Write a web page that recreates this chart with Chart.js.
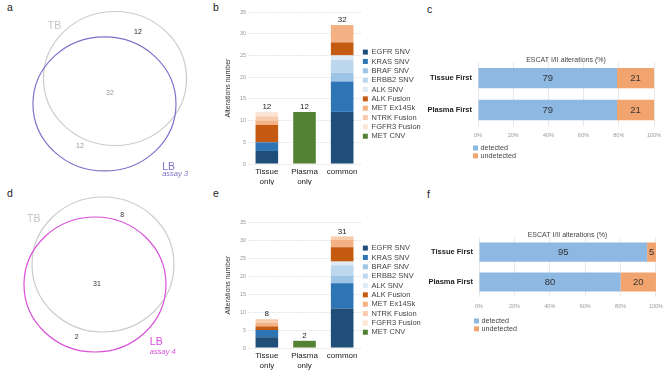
<!DOCTYPE html>
<html>
<head>
<meta charset="utf-8">
<script src="https://cdn.jsdelivr.net/npm/chart.js@4.4.1/dist/chart.umd.min.js"></script>
<style>
  body { margin: 0; background: #fff; width: 669px; height: 375px; position: relative; overflow: hidden;
         font-family: "Liberation Sans", Arial, sans-serif; }
  .panel { position: absolute; }
  .tag { position: absolute; font-size: 10.5px; line-height: 1; color: #222; }
</style>
</head>
<body>
<div class="tag" style="left:7px;top:2px">a</div>
<div class="tag" style="left:213px;top:2px">b</div>
<div class="tag" style="left:427px;top:4px">c</div>
<div class="tag" style="left:7px;top:188px">d</div>
<div class="tag" style="left:213px;top:188px">e</div>
<div class="tag" style="left:427px;top:189px">f</div>

<div class="panel" style="left:0;top:0;width:230px;height:185px"><canvas id="vennA"></canvas></div>
<div class="panel" style="left:221px;top:0;width:204px;height:185px"><canvas id="barsB"></canvas></div>
<div class="panel" style="left:420px;top:0;width:249px;height:185px"><canvas id="escatC"></canvas></div>
<div class="panel" style="left:0;top:185px;width:230px;height:185px"><canvas id="vennD"></canvas></div>
<div class="panel" style="left:221px;top:185px;width:204px;height:185px"><canvas id="barsE"></canvas></div>
<div class="panel" style="left:420px;top:185px;width:249px;height:185px"><canvas id="escatF"></canvas></div>

<script>
// ---- data ----
const vennSetNames = ['TB', 'LB'];
const vennACounts = [12, 32, 12];   // TB only, both, LB only
const vennDCounts = [8, 31, 2];

const mutationTypes = ['EGFR SNV', 'KRAS SNV', 'BRAF SNV', 'ERBB2 SNV', 'ALK SNV',
  'ALK Fusion', 'MET Ex14Sk', 'NTRK Fusion', 'FGFR3 Fusion', 'MET CNV'];
const mutationColors = ['#1f4e79', '#2e75b6', '#9dc3e6', '#bdd7ee', '#deebf7',
  '#c55a11', '#f4b183', '#f8cbad', '#fbe5d6', '#548235'];
const groupLabels = [['Tissue', 'only'], ['Plasma', 'only'], 'common'];

// counts per mutation type (same order as mutationTypes)
const assay3TissueOnly = [3, 2, 0, 0, 0, 4, 1, 1, 1, 0];
const assay3PlasmaOnly = [0, 0, 0, 0, 0, 0, 0, 0, 0, 12];
const assay3Common     = [12, 7, 2, 3, 1, 3, 4, 0, 0, 0];
const assay4TissueOnly = [3, 2, 0, 0, 0, 1, 1, 1, 0, 0];
const assay4PlasmaOnly = [0, 0, 0, 0, 0, 0, 0, 0, 0, 2];
const assay4Common     = [11, 7, 2, 3, 1, 4, 2, 1, 0, 0];

const escatGroups = ['Tissue First', 'Plasma First'];
const escatTicks = [0, 20, 40, 60, 80, 100];
const escatCDetected = [79, 79];
const escatCUndetected = [21, 21];
const escatFDetected = [95, 80];
const escatFUndetected = [5, 20];

const FONT = '"Liberation Sans", Arial, sans-serif';
Chart.defaults.font.family = FONT;
Chart.defaults.animation = false;
Chart.defaults.plugins.tooltip.enabled = false;

// ---- venn: circles + texts placed in data units through the scales ----
const vennPlugin = {
  id: 'venn',
  afterDatasetsDraw(chart, args, opts) {
    const { ctx, scales: { x, y } } = chart;
    ctx.save();
    chart.data.datasets.forEach(ds => {
      const c = ds.data[0];
      const cx = x.getPixelForValue(c.x), cy = y.getPixelForValue(c.y);
      const rx = x.getPixelForValue(c.x + opts.radius) - cx;
      const ry = cy - y.getPixelForValue(c.y + opts.radius);
      ctx.beginPath();
      ctx.ellipse(cx, cy, rx, ry, 0, 0, Math.PI * 2);
      ctx.strokeStyle = ds.borderColor;
      ctx.lineWidth = 1.2;
      ctx.stroke();
    });
    opts.texts.forEach(t => {
      ctx.font = (t.style || '') + ' ' + t.size + 'px ' + FONT;
      ctx.fillStyle = t.color;
      ctx.textAlign = t.align || 'center';
      ctx.textBaseline = t.base || 'middle';
      ctx.fillText(t.text, x.getPixelForValue(t.x), y.getPixelForValue(t.y));
    });
    ctx.restore();
  }
};

function vennChart(id, counts, lbColor, assay, centers, texts, range) {
  new Chart(document.getElementById(id), {
    type: 'scatter',
    data: {
      datasets: vennSetNames.map((name, i) => ({
        label: name,
        data: [centers[i]],
        borderColor: i === 0 ? '#cccccc' : lbColor,
        pointRadius: 0
      }))
    },
    options: {
      responsive: true, maintainAspectRatio: false,
      layout: { padding: 0 },
      scales: {
        x: { display: false, min: range[0], max: range[1] },
        y: { display: false, min: range[2], max: range[3] }
      },
      plugins: {
        legend: { display: false },
        venn: { radius: 1, texts: texts }
      }
    },
    plugins: [vennPlugin]
  });
}

vennChart('vennA', vennACounts, '#7d72c9', 'assay 3',
  [{ x: 0, y: 0 }, { x: -0.147, y: -0.38 }],
  [
    { text: vennSetNames[0], x: -0.94, y: 0.74, size: 10.5, color: '#c4c4c4', align: 'left', base: 'alphabetic' },
    { text: vennACounts[0], x: 0.32, y: 0.69, size: 7, color: '#222' },
    { text: vennACounts[1], x: -0.07, y: -0.22, size: 7, color: '#999' },
    { text: vennACounts[2], x: -0.49, y: -1.01, size: 7, color: '#999' },
    { text: vennSetNames[1], x: 0.66, y: -1.37, size: 10.5, color: '#7d72c9', align: 'left', base: 'alphabetic' },
    { text: 'assay 3', x: 0.66, y: -1.45, size: 7.5, color: '#7d72c9', align: 'left', base: 'alphabetic', style: 'italic' }
  ],
  [-1.608, 1.608, -1.59, 1.172]);

vennChart('vennD', vennDCounts, '#d94fd9', 'assay 4',
  [{ x: 0, y: 0 }, { x: -0.113, y: -0.296 }],
  [
    { text: vennSetNames[0], x: -1.07, y: 0.63, size: 10.5, color: '#c4c4c4', align: 'left', base: 'alphabetic' },
    { text: vennDCounts[0], x: 0.27, y: 0.73, size: 7, color: '#333' },
    { text: vennDCounts[1], x: -0.085, y: -0.29, size: 7, color: '#333' },
    { text: vennDCounts[2], x: -0.37, y: -1.07, size: 7, color: '#333' },
    { text: vennSetNames[1], x: 0.66, y: -1.19, size: 10.5, color: '#d94fd9', align: 'left', base: 'alphabetic' },
    { text: 'assay 4', x: 0.66, y: -1.33, size: 7.5, color: '#d94fd9', align: 'left', base: 'alphabetic', style: 'italic' }
  ],
  [-1.451, 1.789, -1.563, 1.178]);

// ---- stacked mutation bars ----
const totalsPlugin = {
  id: 'totals',
  afterDatasetsDraw(chart) {
    const { ctx, scales: { y } } = chart;
    const meta = chart.getDatasetMeta(0);
    ctx.save();
    ctx.font = '8px ' + FONT;
    ctx.fillStyle = '#222';
    ctx.textAlign = 'center';
    ctx.textBaseline = 'bottom';
    chart.data.labels.forEach((l, i) => {
      const sum = chart.data.datasets.reduce((s, ds) => s + ds.data[i], 0);
      ctx.fillText(sum, meta.data[i].x, y.getPixelForValue(sum) - 1);
    });
    ctx.restore();
  }
};

function mutationChart(id, groups, layout) {
  new Chart(document.getElementById(id), {
    type: 'bar',
    data: {
      labels: groupLabels,
      datasets: mutationTypes.map((name, k) => ({
        label: name,
        data: groups.map(g => g[k]),
        backgroundColor: mutationColors[k],
        borderWidth: 0,
        barPercentage: 0.6,
        categoryPercentage: 1
      }))
    },
    options: {
      responsive: true, maintainAspectRatio: false,
      layout: { padding: { top: layout.top, right: 0, bottom: 0, left: 0 } },
      scales: {
        x: {
          stacked: true,
          grid: { display: false, drawTicks: false },
          border: { display: false },
          ticks: { font: { size: 8 }, color: '#222', padding: 3, maxRotation: 0, autoSkip: false },
          afterFit: s => { s.height = layout.xh; }
        },
        y: {
          stacked: true, min: 0, max: 35,
          ticks: { stepSize: 5, font: { size: 5.5 }, color: '#999', padding: 2 },
          grid: { color: '#e6e6e6', drawTicks: false },
          border: { display: false, dash: [2, 1] },
          title: { display: true, text: 'Alterations number', font: { size: 7 }, color: '#333', padding: { top: 3, bottom: 0 } },
          afterFit: s => { s.width = 27; }
        }
      },
      plugins: {
        legend: {
          position: 'right', align: 'start', maxWidth: 64,
          // blank title only pushes the item list down
          title: { display: true, text: ' ', font: { size: 1, lineHeight: 1 }, padding: { top: layout.legendTop, bottom: 0 } },
          labels: { boxWidth: 5, boxHeight: 5, padding: 1.85, font: { size: 7.5 }, color: '#444' }
        }
      }
    },
    plugins: [totalsPlugin]
  });
}

mutationChart('barsB', [assay3TissueOnly, assay3PlasmaOnly, assay3Common], { top: 12, xh: 21, legendTop: 33.5 });
mutationChart('barsE', [assay4TissueOnly, assay4PlasmaOnly, assay4Common], { top: 37, xh: 22, legendTop: 19.5 });

// ---- ESCAT horizontal stacked percent bars ----
const segLabels = {
  id: 'segLabels',
  afterDatasetsDraw(chart) {
    const { ctx } = chart;
    ctx.save();
    ctx.font = '9.5px ' + FONT;
    ctx.fillStyle = '#333';
    ctx.textAlign = 'center';
    ctx.textBaseline = 'middle';
    chart.data.datasets.forEach((ds, i) => {
      chart.getDatasetMeta(i).data.forEach((el, j) => {
        ctx.fillText(ds.data[j], (el.x + el.base) / 2, el.y + 0.5);
      });
    });
    ctx.restore();
  }
};

const boxLegend = {
  id: 'boxLegend',
  afterDraw(chart, args, opts) {
    const { ctx, chartArea } = chart;
    ctx.save();
    ctx.font = '7.2px ' + FONT;
    ctx.textBaseline = 'middle';
    ctx.textAlign = 'left';
    chart.data.datasets.forEach((ds, i) => {
      const y = chartArea.bottom + opts.offset + i * 7.8;
      ctx.fillStyle = ds.backgroundColor;
      ctx.fillRect(chartArea.left - 5, y - 2.5, 5, 5);
      ctx.fillStyle = '#444';
      ctx.fillText(ds.label, chartArea.left + 2.5, y);
    });
    ctx.restore();
  }
};

function escatChart(id, detected, undetected, layout) {
  new Chart(document.getElementById(id), {
    type: 'bar',
    data: {
      labels: escatGroups,
      datasets: [
        { label: 'detected', data: detected, backgroundColor: '#8db8e2', borderWidth: 0, barPercentage: 0.64, categoryPercentage: 1 },
        { label: 'undetected', data: undetected, backgroundColor: '#f2a46f', borderWidth: 0, barPercentage: 0.64, categoryPercentage: 1 }
      ]
    },
    options: {
      indexAxis: 'y',
      responsive: true, maintainAspectRatio: false,
      layout: { padding: { top: layout.top, right: layout.right, bottom: 0, left: 0 } },
      scales: {
        x: {
          stacked: true, min: escatTicks[0], max: escatTicks[escatTicks.length - 1],
          afterBuildTicks: s => { s.ticks = escatTicks.map(v => ({ value: v })); },
          ticks: { callback: v => v + '%', font: { size: 5.5 }, color: '#999', padding: 6, maxRotation: 0 },
          grid: { color: '#e8e8e8', drawTicks: false },
          border: { display: false },
          afterFit: s => { s.height = layout.xh; }
        },
        y: {
          stacked: true,
          ticks: { font: { size: 7.5, weight: 'bold' }, color: '#222', padding: 6 },
          grid: { display: false, drawTicks: false },
          border: { display: false },
          afterFit: s => { s.width = layout.yw; }
        }
      },
      plugins: {
        legend: { display: false },
        title: {
          display: true, fullSize: false, text: 'ESCAT I/II alterations (%)',
          font: { size: 7, weight: 'normal', lineHeight: 0.6 }, color: '#444', padding: 0
        },
        boxLegend: { offset: layout.legend }
      }
    },
    plugins: [segLabels, boxLegend]
  });
}

escatChart('escatC', escatCDetected, escatCUndetected, { top: 58, right: 15, yw: 58, xh: 59, legend: 22 });
escatChart('escatF', escatFDetected, escatFUndetected, { top: 48, right: 12, yw: 59, xh: 73, legend: 24 });
</script>
</body>
</html>
